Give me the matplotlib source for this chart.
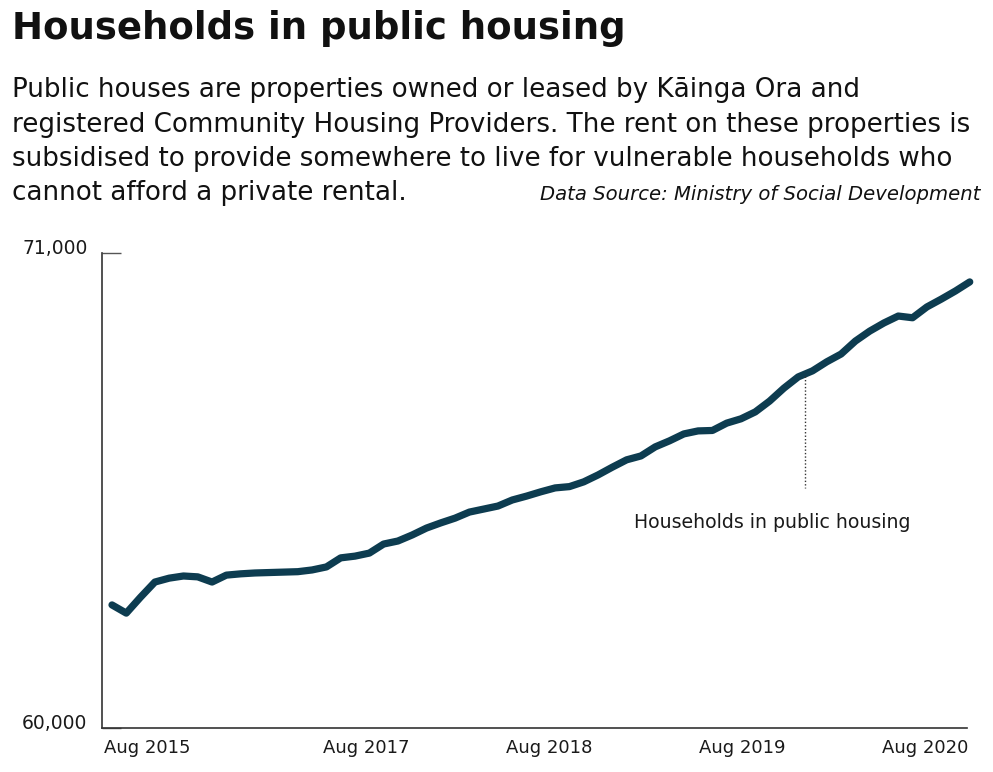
import numpy as np
import matplotlib.pyplot as plt
import matplotlib.transforms as mtrans

# households in public housing, one value per period
households = [62850, 62660, 63030, 63380, 63470, 63520, 63500, 63380, 63540, 63570,
              63590, 63600, 63610, 63620, 63660, 63730, 63940, 63980, 64050, 64260,
              64330, 64470, 64630, 64750, 64860, 65000, 65070, 65140, 65280, 65370,
              65470, 65560, 65590, 65700, 65860, 66040, 66210, 66300, 66510, 66650,
              66810, 66880, 66890, 67060, 67160, 67320, 67570, 67870, 68130, 68270,
              68480, 68660, 68960, 69190, 69380, 69540, 69500, 69750, 69930, 70120,
              70330]
tick_pos = [2.45, 17.8, 30.6, 44.1, 56.9]
tick_labels = ['Aug 2015', 'Aug 2017', 'Aug 2018', 'Aug 2019', 'Aug 2020']
y_ticks = [60000, 71000]

sub_lines = ['Public houses are properties owned or leased by Kāinga Ora and',
             'registered Community Housing Providers. The rent on these properties is',
             'subsidised to provide somewhere to live for vulnerable households who',
             'cannot afford a private rental.']

line_col = '#0d3c50'
txt_col = '#1a1a1a'

fig = plt.figure(figsize=(9.93, 7.72), dpi=100)
ax = fig.add_axes([0.1027, 0.057, 0.871, 0.6153])

x = np.arange(len(households))
ax.plot(x, households, color=line_col, lw=5.2, solid_capstyle='round',
        solid_joinstyle='round', clip_on=False)

ax.set_xlim(-0.7, 59.8)
ax.set_ylim(60000, 71000)

for s in ['top', 'right']:
    ax.spines[s].set_visible(False)
for s in ['left', 'bottom']:
    ax.spines[s].set_color('#333333')
    ax.spines[s].set_linewidth(1.2)

ax.set_yticks(y_ticks)
ax.set_yticklabels(['{:,}'.format(v) for v in y_ticks], fontsize=13.5, color=txt_col)
ax.tick_params(axis='y', direction='in', length=14, width=1, color='#555555', pad=10.5)
# labels sit a little above their ticks in the original
shift = mtrans.ScaledTranslation(0, 5 / 72, fig.dpi_scale_trans)
for lab in ax.get_yticklabels():
    lab.set_transform(lab.get_transform() + shift)
ax.set_xticks(tick_pos)
ax.set_xticklabels(tick_labels, fontsize=13, color=txt_col)
ax.tick_params(axis='x', length=0, pad=8)

# annotation
ax.plot([48.5, 48.5], [68150, 65560], color='#333333', lw=1, ls=(0, (1, 1.5)))
ax.text(46.2, 64770, 'Households in public housing', fontsize=13.6, color=txt_col,
        ha='center', va='center')

fig.text(0.012, 0.963, 'Households in public housing', fontsize=26.7, fontweight='bold',
         color='#111111', va='center')
base = [0.8744, 0.829, 0.785, 0.741]
for yy, line in zip(base, sub_lines):
    fig.text(0.012, yy, line, fontsize=18.8, color='#111111', va='baseline')
fig.text(0.987, 0.741, 'Data Source: Ministry of Social Development', fontsize=14.1,
         style='italic', color='#111111', ha='right', va='baseline')

fig.savefig('out.png', dpi=100)
